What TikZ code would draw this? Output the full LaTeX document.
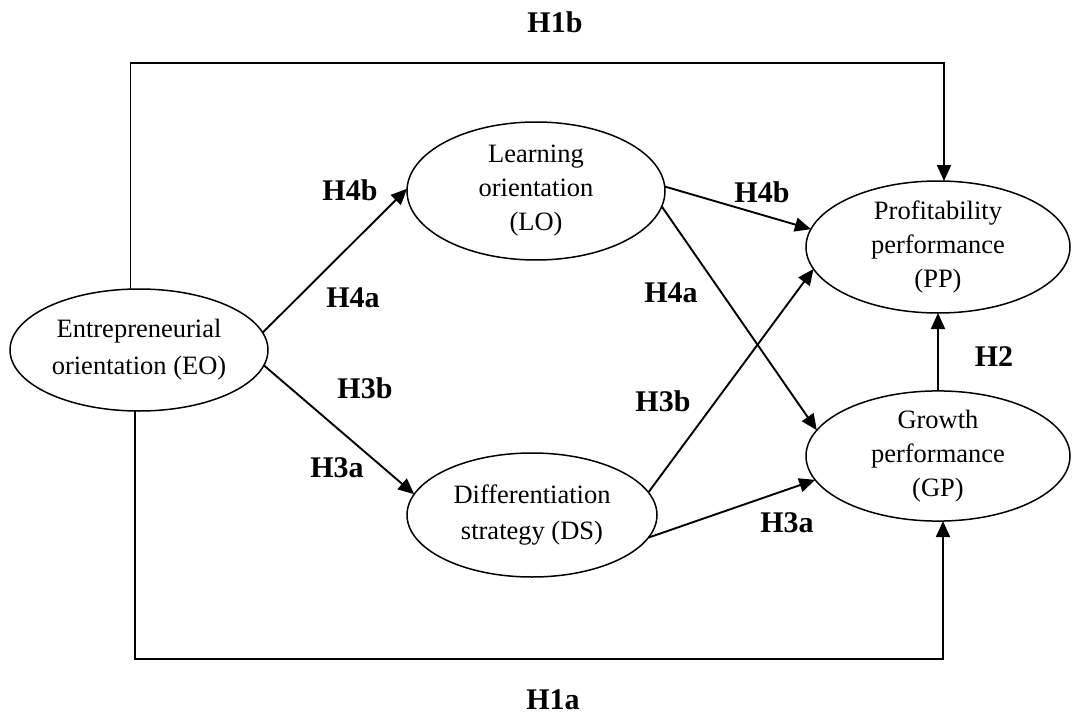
\documentclass[tikz,border=0pt]{standalone}
\usepackage{fontspec}
\setmainfont{Liberation Serif}
\usetikzlibrary{shapes.geometric,arrows.meta}
\begin{document}
\begin{tikzpicture}[x=1pt,y=-1pt,
  oval/.style={ellipse,draw,line width=1.5pt,inner sep=0pt,outer sep=0pt,align=center,font=\fontsize{26.5}{34}\selectfont},
  hyp/.style={font=\fontsize{30}{36}\selectfont\bfseries},
  arr/.style={line width=1.9pt,-{Triangle[length=16pt,width=14pt]}},
  ln/.style={line width=1.9pt}]
\useasboundingbox (0,0) rectangle (1072,717);
% ovals
\node[oval,minimum width=258pt,minimum height=122pt,font=\fontsize{26.5}{37}\selectfont] (EO) at (139,350) {Entrepreneurial\\orientation (EO)};
\node[oval,minimum width=258pt,minimum height=138pt] (LO) at (536,191) {Learning\\orientation\\(LO)};
\node[oval,minimum width=250pt,minimum height=124pt,font=\fontsize{26.5}{36}\selectfont] (DS) at (532,515) {Differentiation\\strategy (DS)};
\node[oval,minimum width=264pt,minimum height=132pt] (PP) at (938,247) {Profitability\\performance\\(PP)};
\node[oval,minimum width=264pt,minimum height=128pt] (GP) at (938,456) {Growth\\performance\\(GP)};
% corner coordinates
\coordinate (tr) at (944,63);
\coordinate (br) at (943,659);
% H1 paths
\draw[arr] (EO.98) |- (tr) -- (tr |- PP.north);
\draw[arr] (EO.266) |- (br) -- (br |- GP.south);
% H2
\draw[arr] (GP.north) -- (PP.south);
% diagonals
\draw[arr] (EO.8) -- (LO.179);
\draw[arr] (EO.-7) -- (DS.170);
\draw[arr] (LO.2) -- (PP.172);
\draw[arr] (LO.-7) -- (GP.168);
\draw[arr] (DS.11) -- (PP.190);
\draw[arr] (DS.-11) -- (GP.191);
% labels
\node[hyp] (h1b) at (555,22) {H1b};
\node[hyp] (h1a) at (553,700) {H1a};
\node[hyp] (h4bL) at (350,190) {H4b};
\node[hyp] (h4aL) at (353,298) {H4a};
\node[hyp] (h3bL) at (365,388) {H3b};
\node[hyp] (h3aL) at (337,468) {H3a};
\node[hyp] (h4bR) at (762,192) {H4b};
\node[hyp] (h4aR) at (671,293) {H4a};
\node[hyp] (h3bR) at (663,401) {H3b};
\node[hyp] (h3aR) at (787,523) {H3a};
\node[hyp] (h2) at (994,357) {H2};
\end{tikzpicture}
\end{document}
